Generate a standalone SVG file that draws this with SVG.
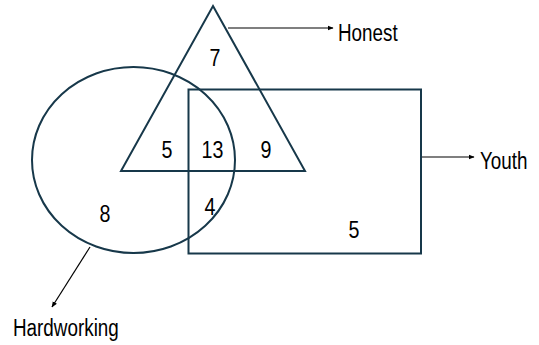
<svg xmlns="http://www.w3.org/2000/svg" width="539" height="345" viewBox="0 0 539 345">
<style>
.shape{fill:none;stroke:#17384a;stroke-width:2}
.conn{fill:none;stroke:#000;stroke-width:1.2}
text{font-family:"Liberation Sans",Arial,sans-serif;fill:#000}
.num{font-size:24px;text-anchor:middle}
.lbl{font-size:23px}
</style>
<defs>
<marker id="ah" viewBox="0 0 10 10" refX="9" refY="5" markerWidth="5" markerHeight="5" orient="auto" markerUnits="strokeWidth">
<path d="M0,1 L10,5 L0,9 z" fill="#000"/>
</marker>
</defs>
<rect width="539" height="345" fill="#fff"/>
<g id="hardworking">
<ellipse class="shape" cx="133.5" cy="160" rx="101.5" ry="93"/>
</g>
<g id="honest">
<polygon class="shape" points="213,6 305,171 121,171"/>
</g>
<g id="youth">
<rect class="shape" x="188.5" y="89.5" width="232.5" height="164"/>
</g>
<g id="connectors">
<line class="conn" x1="228" y1="28" x2="333" y2="28" marker-end="url(#ah)"/>
<line class="conn" x1="422" y1="157" x2="474" y2="157" marker-end="url(#ah)"/>
<line class="conn" x1="90" y1="247" x2="52" y2="307" marker-end="url(#ah)"/>
</g>
<g id="numbers">
<text class="num" transform="translate(215,66) scale(0.82,1)">7</text>
<text class="num" transform="translate(167,158) scale(0.82,1)">5</text>
<text class="num" transform="translate(212.5,158) scale(0.82,1)">13</text>
<text class="num" transform="translate(266,158) scale(0.82,1)">9</text>
<text class="num" transform="translate(105,222) scale(0.82,1)">8</text>
<text class="num" transform="translate(210,215) scale(0.82,1)">4</text>
<text class="num" transform="translate(354,238) scale(0.82,1)">5</text>
</g>
<g id="labels">
<text class="lbl" transform="translate(338,41) scale(0.82,1)">Honest</text>
<text class="lbl" transform="translate(480,169) scale(0.82,1)">Youth</text>
<text class="lbl" transform="translate(13,336) scale(0.82,1)">Hardworking</text>
</g>
</svg>
